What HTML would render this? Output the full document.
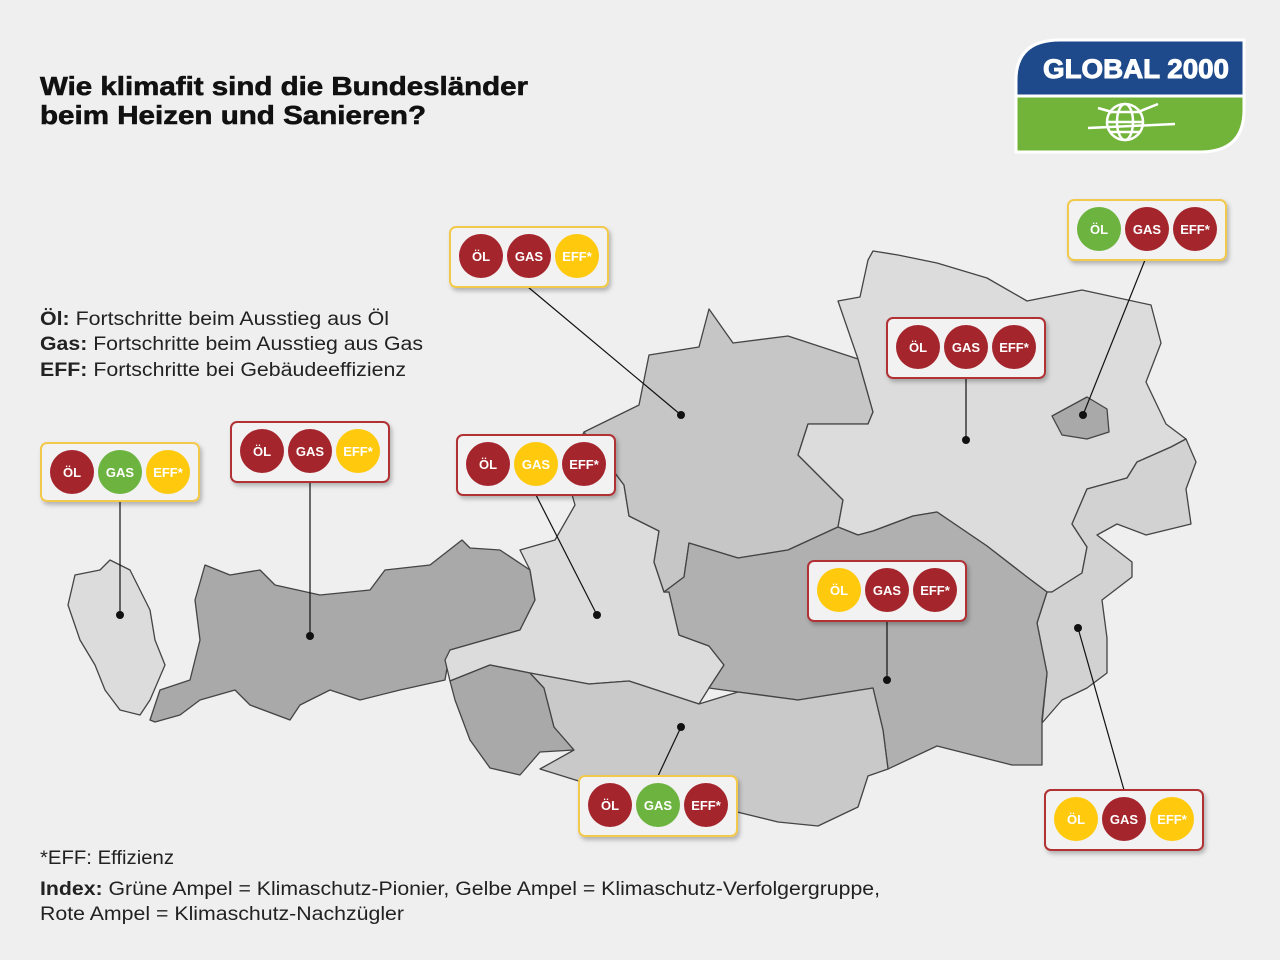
<!DOCTYPE html>
<html><head><meta charset="utf-8"><style>
body{margin:0;background:#efefef;}
svg{display:block}
.t{font-family:"Liberation Sans",sans-serif;}
.c{font-family:"Liberation Sans",sans-serif;font-weight:bold;font-size:13px;fill:#fff;text-anchor:middle}
</style></head><body>
<svg width="1280" height="960" viewBox="0 0 1280 960" xmlns="http://www.w3.org/2000/svg">
<defs><filter id="sh" x="-10%" y="-10%" width="130%" height="140%"><feDropShadow dx="2" dy="3" stdDeviation="2" flood-color="#000" flood-opacity="0.25"/></filter></defs>
<rect width="1280" height="960" fill="#efefef"/>
<g class="t" font-weight="bold" font-size="26" fill="#111" stroke="#111" stroke-width="0.6">
<text x="40" y="95" textLength="488" lengthAdjust="spacingAndGlyphs">Wie klimafit sind die Bundesländer</text>
<text x="40" y="124" textLength="386" lengthAdjust="spacingAndGlyphs">beim Heizen und Sanieren?</text></g>
<g class="t" font-size="19" fill="#222">
<text x="40" y="325" textLength="349" lengthAdjust="spacingAndGlyphs"><tspan font-weight="bold">Öl:</tspan> Fortschritte beim Ausstieg aus Öl</text>
<text x="40" y="350" textLength="383" lengthAdjust="spacingAndGlyphs"><tspan font-weight="bold">Gas:</tspan> Fortschritte beim Ausstieg aus Gas</text>
<text x="40" y="376" textLength="366" lengthAdjust="spacingAndGlyphs"><tspan font-weight="bold">EFF:</tspan> Fortschritte bei Gebäudeeffizienz</text>
<text x="40" y="864" textLength="134" lengthAdjust="spacingAndGlyphs">*EFF: Effizienz</text>
<text x="40" y="895" textLength="840" lengthAdjust="spacingAndGlyphs"><tspan font-weight="bold">Index:</tspan> Grüne Ampel = Klimaschutz-Pionier, Gelbe Ampel = Klimaschutz-Verfolgergruppe,</text>
<text x="40" y="920" textLength="364" lengthAdjust="spacingAndGlyphs">Rote Ampel = Klimaschutz-Nachzügler</text></g>
<!-- logo -->
<path d="M1016 96 V80 Q1016 40 1060 40 H1244 V96Z" fill="#1e4a8c" stroke="#fff" stroke-width="3"/>
<path d="M1016 96 H1244 V110 Q1244 152 1200 152 H1016Z" fill="#72b43a" stroke="#fff" stroke-width="3"/>
<text x="1136" y="78" class="t" font-weight="bold" font-size="27" fill="#fff" stroke="#fff" stroke-width="1" text-anchor="middle" textLength="186" lengthAdjust="spacingAndGlyphs">GLOBAL 2000</text>
<g stroke="#fff" stroke-width="2.5" fill="none"><circle cx="1125" cy="122" r="18"/><ellipse cx="1125" cy="122" rx="8" ry="18"/><line x1="1107" y1="122" x2="1143" y2="122"/><line x1="1110" y1="112" x2="1140" y2="112"/><line x1="1110" y1="132" x2="1140" y2="132"/><line x1="1088" y1="128" x2="1175" y2="124"/><line x1="1098" y1="108" x2="1112" y2="112"/><line x1="1138" y1="112" x2="1158" y2="104"/></g>
<!-- map -->
<g stroke="#444" stroke-width="1.3" stroke-linejoin="round">
<polygon fill="#dcdcdc" points="75,575 100,570 110,560 130,570 140,590 150,610 155,640 165,665 150,700 140,715 120,710 105,690 95,665 80,640 68,605"/>
<polygon fill="#a9a9a9" points="150,720 160,690 190,680 200,640 195,600 205,565 230,575 260,570 275,585 320,595 370,590 385,570 430,565 462,540 470,548 500,550 530,570 535,600 520,630 450,650 445,680 400,690 360,700 330,690 300,705 290,720 250,705 235,690 200,700 180,715 155,722"/>
<polygon fill="#dcdcdc" points="520,550 555,540 575,505 565,470 584,432 624,485 629,516 659,531 654,562 664,592 669,592 679,635 709,646 724,665 709,688 699,704 629,681 589,684 530,673 490,665 450,681 445,660 450,650 520,630 535,600 530,570"/>
<polygon fill="#c6c6c6" points="709,309 733,343 788,336 858,359 873,412 868,424 808,424 798,455 843,500 838,527 788,550 738,558 689,543 684,577 664,592 654,562 659,531 629,516 624,485 584,432 639,405 649,355 699,347"/>
<polygon fill="#dcdcdc" points="873,251 898,255 937,263 987,278 1027,301 1082,290 1151,305 1161,343 1146,382 1166,424 1186,439 1171,447 1137,462 1127,478 1087,489 1072,524 1087,547 1082,573 1052,592 1047,592 1027,577 987,546 937,512 913,516 873,531 858,535 838,527 843,500 798,455 808,424 868,424 873,412 858,359 838,301 860,297 868,260"/>
<polygon fill="#a9a9a9" points="1052,416 1087,397 1107,409 1109,432 1087,439 1062,435"/>
<polygon fill="#d2d2d2" points="1171,447 1186,439 1196,462 1186,489 1191,524 1146,535 1117,524 1097,535 1132,562 1132,577 1102,600 1107,638 1107,673 1087,688 1062,700 1042,723 1047,673 1037,623 1047,592 1052,592 1082,573 1087,547 1072,524 1087,489 1127,478 1137,462"/>
<polygon fill="#b0b0b0" points="689,543 738,558 788,550 838,527 858,535 873,531 913,516 937,512 987,546 1027,577 1047,592 1037,623 1047,673 1042,719 1042,765 1012,765 937,746 888,769 883,730 873,688 798,700 738,692 709,688 724,665 709,646 679,635 669,592 664,592 684,577"/>
<polygon fill="#a9a9a9" points="450,681 490,665 530,673 544,688 554,727 574,750 540,752 520,775 490,768 470,740 455,700"/>
<polygon fill="#c9c9c9" points="530,673 589,684 629,681 699,704 738,692 798,700 873,688 883,730 888,769 868,776 858,807 818,826 778,822 733,811 640,800 540,769 574,750 554,727 544,688"/>
</g>
<!-- connectors -->
<g stroke="#111" stroke-width="1.2">
<line x1="120" y1="502" x2="120" y2="615"/><line x1="310" y1="482" x2="310" y2="636"/>
<line x1="528" y1="287" x2="681" y2="415"/><line x1="536" y1="495" x2="597" y2="615"/>
<line x1="1145" y1="260" x2="1083" y2="415"/><line x1="966" y1="378" x2="966" y2="440"/>
<line x1="887" y1="621" x2="887" y2="680"/><line x1="658" y1="776" x2="681" y2="727"/>
<line x1="1124" y1="790" x2="1078" y2="628"/></g>
<g fill="#111"><circle cx="120" cy="615" r="4"/><circle cx="310" cy="636" r="4"/><circle cx="681" cy="415" r="4"/><circle cx="597" cy="615" r="4"/><circle cx="1083" cy="415" r="4"/><circle cx="966" cy="440" r="4"/><circle cx="887" cy="680" r="4"/><circle cx="681" cy="727" r="4"/><circle cx="1078" cy="628" r="4"/></g>
<!-- badges -->
<g>
<g transform="translate(41,443)"><rect width="158" height="58" rx="6" fill="#f2f2f2" stroke="#f2c94c" stroke-width="2" filter="url(#sh)"/><circle cx="31" cy="29" r="22" fill="#a4262c"/><circle cx="79" cy="29" r="22" fill="#6db33f"/><circle cx="127" cy="29" r="22" fill="#ffc90e"/><text class="c" x="31" y="34">ÖL</text><text class="c" x="79" y="34">GAS</text><text class="c" x="127" y="34">EFF*</text></g>
<g transform="translate(231,422)"><rect width="158" height="60" rx="6" fill="#f2f2f2" stroke="#b03035" stroke-width="2" filter="url(#sh)"/><circle cx="31" cy="29" r="22" fill="#a4262c"/><circle cx="79" cy="29" r="22" fill="#a4262c"/><circle cx="127" cy="29" r="22" fill="#ffc90e"/><text class="c" x="31" y="34">ÖL</text><text class="c" x="79" y="34">GAS</text><text class="c" x="127" y="34">EFF*</text></g>
<g transform="translate(450,227)"><rect width="158" height="60" rx="6" fill="#f2f2f2" stroke="#f2c94c" stroke-width="2" filter="url(#sh)"/><circle cx="31" cy="29" r="22" fill="#a4262c"/><circle cx="79" cy="29" r="22" fill="#a4262c"/><circle cx="127" cy="29" r="22" fill="#ffc90e"/><text class="c" x="31" y="34">ÖL</text><text class="c" x="79" y="34">GAS</text><text class="c" x="127" y="34">EFF*</text></g>
<g transform="translate(457,435)"><rect width="158" height="60" rx="6" fill="#f2f2f2" stroke="#b03035" stroke-width="2" filter="url(#sh)"/><circle cx="31" cy="29" r="22" fill="#a4262c"/><circle cx="79" cy="29" r="22" fill="#ffc90e"/><circle cx="127" cy="29" r="22" fill="#a4262c"/><text class="c" x="31" y="34">ÖL</text><text class="c" x="79" y="34">GAS</text><text class="c" x="127" y="34">EFF*</text></g>
<g transform="translate(1068,200)"><rect width="158" height="60" rx="6" fill="#f2f2f2" stroke="#f2c94c" stroke-width="2" filter="url(#sh)"/><circle cx="31" cy="29" r="22" fill="#6db33f"/><circle cx="79" cy="29" r="22" fill="#a4262c"/><circle cx="127" cy="29" r="22" fill="#a4262c"/><text class="c" x="31" y="34">ÖL</text><text class="c" x="79" y="34">GAS</text><text class="c" x="127" y="34">EFF*</text></g>
<g transform="translate(887,318)"><rect width="158" height="60" rx="6" fill="#f2f2f2" stroke="#b03035" stroke-width="2" filter="url(#sh)"/><circle cx="31" cy="29" r="22" fill="#a4262c"/><circle cx="79" cy="29" r="22" fill="#a4262c"/><circle cx="127" cy="29" r="22" fill="#a4262c"/><text class="c" x="31" y="34">ÖL</text><text class="c" x="79" y="34">GAS</text><text class="c" x="127" y="34">EFF*</text></g>
<g transform="translate(808,561)"><rect width="158" height="60" rx="6" fill="#f2f2f2" stroke="#b03035" stroke-width="2" filter="url(#sh)"/><circle cx="31" cy="29" r="22" fill="#ffc90e"/><circle cx="79" cy="29" r="22" fill="#a4262c"/><circle cx="127" cy="29" r="22" fill="#a4262c"/><text class="c" x="31" y="34">ÖL</text><text class="c" x="79" y="34">GAS</text><text class="c" x="127" y="34">EFF*</text></g>
<g transform="translate(579,776)"><rect width="158" height="60" rx="6" fill="#f2f2f2" stroke="#f2c94c" stroke-width="2" filter="url(#sh)"/><circle cx="31" cy="29" r="22" fill="#a4262c"/><circle cx="79" cy="29" r="22" fill="#6db33f"/><circle cx="127" cy="29" r="22" fill="#a4262c"/><text class="c" x="31" y="34">ÖL</text><text class="c" x="79" y="34">GAS</text><text class="c" x="127" y="34">EFF*</text></g>
<g transform="translate(1045,790)"><rect width="158" height="60" rx="6" fill="#f2f2f2" stroke="#b03035" stroke-width="2" filter="url(#sh)"/><circle cx="31" cy="29" r="22" fill="#ffc90e"/><circle cx="79" cy="29" r="22" fill="#a4262c"/><circle cx="127" cy="29" r="22" fill="#ffc90e"/><text class="c" x="31" y="34">ÖL</text><text class="c" x="79" y="34">GAS</text><text class="c" x="127" y="34">EFF*</text></g>
</g>
</svg>
</body></html>
